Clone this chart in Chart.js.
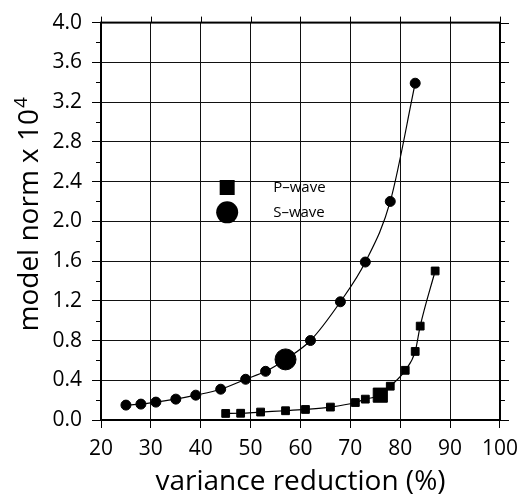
<!DOCTYPE html>
<html>
<head>
<meta charset="utf-8">
<script src="https://cdn.jsdelivr.net/npm/chart.js@4/dist/chart.umd.min.js"></script>
<style>
  html, body { margin: 0; padding: 0; background: #fff; }
  #wrap { width: 526px; height: 499px; }
</style>
</head>
<body>
<div id="wrap"><canvas id="c" width="526" height="499"></canvas></div>
<script>
// variance reduction (%) vs model norm (x 10^4)
const sWaveX = [25, 28, 31, 35, 39, 44, 49, 53, 57, 62, 68, 73, 78, 83];
const sWaveY = [0.15, 0.16, 0.18, 0.21, 0.25, 0.31, 0.41, 0.49, 0.61, 0.80, 1.19, 1.59, 2.20, 3.39];
const pWaveX = [45, 48, 52, 57, 61, 66, 71, 73, 76, 78, 81, 83, 84, 87];
const pWaveY = [0.066, 0.068, 0.08, 0.093, 0.106, 0.13, 0.176, 0.21, 0.25, 0.34, 0.50, 0.69, 0.945, 1.50];
// the highlighted (preferred) model in each series
const sWaveBest = 8;
const pWaveBest = 8;

const legendNames = ['P\u2013wave', 'S\u2013wave'];
const legendStyles = ['rect', 'circle'];
const legendAt = { x: 45.3, y: [2.34, 2.09] };

const yTitle = 'model norm x 10';
const yTitleSup = '4';

const FONT = '"Open Sans", "Noto Sans", sans-serif';

function pts(xs, ys) {
  return xs.map((x, i) => ({ x: x, y: ys[i] }));
}

// frame, ticks on all four sides, minor ticks, legend, y title with superscript
const framePlugin = {
  id: 'frame',
  afterDraw(c) {
    const ctx = c.ctx;
    const a = c.chartArea;
    const xs = c.scales.x, ys = c.scales.y;
    ctx.save();
    ctx.strokeStyle = '#000';
    ctx.lineWidth = 1;
    ctx.beginPath();
    for (let i = 0; i <= 20; i++) {
      const y = Math.round(ys.getPixelForValue(i * 0.2)) + 0.5;
      const len = i % 2 === 0 ? 9 : 5;
      if (i % 2 === 1) { ctx.moveTo(a.left - len, y); ctx.lineTo(a.left, y); }
      ctx.moveTo(a.right, y); ctx.lineTo(a.right + len, y);
    }
    for (let v = 20; v <= 100; v += 10) {
      const x = Math.round(xs.getPixelForValue(v)) + 0.5;
      ctx.moveTo(x, a.top - 6); ctx.lineTo(x, a.top);
    }
    ctx.stroke();
    ctx.lineWidth = 2;
    ctx.strokeRect(a.left, a.top, a.right - a.left, a.bottom - a.top);

    // legend
    legendNames.forEach((name, i) => {
      const px = xs.getPixelForValue(legendAt.x);
      const py = ys.getPixelForValue(legendAt.y[i]);
      ctx.fillStyle = '#000';
      ctx.beginPath();
      if (legendStyles[i] === 'rect') {
        ctx.rect(px - 7.5, py - 7.5, 15, 15);
      } else {
        ctx.arc(px, py, 11, 0, Math.PI * 2);
      }
      ctx.fill();
      ctx.font = '15px ' + FONT;
      ctx.textBaseline = 'middle';
      ctx.textAlign = 'left';
      ctx.fillText(name, px + 46, py);
    });

    // y title, rotated, with a real superscript
    ctx.font = '28px ' + FONT;
    const w1 = ctx.measureText(yTitle).width;
    ctx.font = '19px ' + FONT;
    const w2 = ctx.measureText(yTitleSup).width;
    const cy = (a.top + a.bottom) / 2 - 7;
    ctx.translate(38, cy + (w1 + w2 + 1) / 2);
    ctx.rotate(-Math.PI / 2);
    ctx.textBaseline = 'alphabetic';
    ctx.textAlign = 'left';
    ctx.font = '28px ' + FONT;
    ctx.fillText(yTitle, 0, 0);
    ctx.font = '19px ' + FONT;
    ctx.fillText(yTitleSup, w1 + 1, -11);
    ctx.restore();
  }
};

const ctx = document.getElementById('c');
const chart = new Chart(ctx, {
  type: 'scatter',
  data: {
    datasets: [
      {
        label: 'S-wave',
        data: pts(sWaveX, sWaveY),
        showLine: true,
        borderColor: '#000',
        borderWidth: 1.2,
        backgroundColor: '#000',
        pointStyle: 'circle',
        pointRadius: sWaveX.map((_, i) => i === sWaveBest ? 10.5 : 5),
        pointBorderWidth: 1,
        cubicInterpolationMode: 'monotone',
      },
      {
        label: 'P-wave',
        data: pts(pWaveX, pWaveY),
        showLine: true,
        borderColor: '#000',
        borderWidth: 1.2,
        backgroundColor: '#000',
        pointStyle: 'rect',
        pointRadius: pWaveX.map((_, i) => i === pWaveBest ? 10 : 5.5),
        pointBorderWidth: 1,
        cubicInterpolationMode: 'monotone',
      },
    ],
  },
  options: {
    responsive: false,
    animation: false,
    layout: {
      padding: { top: 18, right: 25, left: 0, bottom: 0 },
    },
    scales: {
      x: {
        type: 'linear',
        min: 20,
        max: 100,
        afterFit: (s) => { s.height = 79; },
        border: { display: false },
        grid: {
          color: '#111',
          lineWidth: 1,
          tickLength: 8,
          tickColor: '#000',
        },
        ticks: {
          stepSize: 10,
          color: '#000',
          padding: 8,
          maxRotation: 0,
          font: { family: FONT, size: 21 },
        },
        title: {
          display: true,
          text: 'variance reduction (%)',
          color: '#000',
          padding: { top: 0, bottom: 0 },
          font: { family: FONT, size: 28 },
        },
      },
      y: {
        min: 0,
        max: 4,
        afterFit: (s) => { s.width = 101; },
        border: { display: false },
        grid: {
          color: '#111',
          lineWidth: 1,
          tickLength: 9,
          tickColor: '#000',
        },
        ticks: {
          stepSize: 0.4,
          color: '#000',
          padding: 10,
          font: { family: FONT, size: 21 },
          callback: (v) => v.toFixed(1),
        },
        title: { display: false },
      },
    },
    plugins: {
      legend: { display: false },
      tooltip: { enabled: false },
    },
  },
  plugins: [framePlugin],
});
</script>
</body>
</html>
